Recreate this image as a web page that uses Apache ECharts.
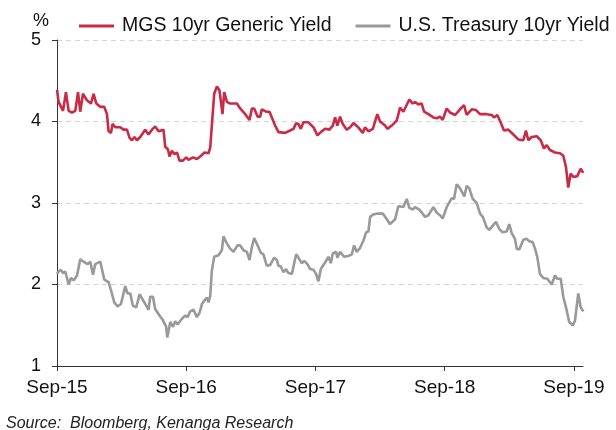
<!DOCTYPE html>
<html>
<head>
<meta charset="utf-8" />
<script src="https://cdn.jsdelivr.net/npm/echarts@6/dist/echarts.min.js"></script>
<style>
  html, body { margin: 0; padding: 0; background: #fff; }
  #chart { width: 616px; height: 430px; }
</style>
</head>
<body>
<div id="chart"></div>
<script>
// x values are months since Sep-15
const tickLabels = ["Sep-15", "Sep-16", "Sep-17", "Sep-18", "Sep-19"];
const tickMonths = [0, 12, 24, 36, 48];

const mgsMonths = [0, 0.15, 0.56, 0.83, 1.08, 1.39, 1.7, 1.95, 2.16, 2.41, 2.78, 3.15, 3.4, 3.65, 4.02, 4.39, 4.64, 4.79, 5.01, 5.16, 5.41, 5.87, 6.18, 6.5, 6.74, 6.96, 7.2, 7.42, 7.73, 8.19, 8.5, 8.82, 9.12, 9.43, 9.89, 10.05, 10.3, 10.45, 10.67, 10.91, 11.14, 11.38, 11.69, 12, 12.21, 12.62, 12.99, 13.3, 13.7, 14.07, 14.23, 14.48, 14.6, 14.85, 15.09, 15.37, 15.53, 15.78, 16.08, 16.71, 17.01, 17.48, 17.88, 18.1, 18.31, 18.62, 18.87, 19.02, 19.42, 19.73, 20.26, 20.57, 21.19, 21.65, 21.96, 22.21, 22.42, 22.64, 22.89, 23.35, 23.81, 24.19, 24.5, 24.9, 25.3, 25.61, 25.83, 26.04, 26.29, 26.54, 26.91, 27.22, 27.53, 27.9, 28.4, 28.61, 28.92, 29.33, 29.75, 30, 30.47, 30.68, 31.09, 31.55, 31.86, 32.17, 32.72, 33.04, 33.25, 33.56, 33.87, 34.09, 34.49, 34.95, 35.27, 35.57, 35.82, 36.19, 36.5, 36.97, 37.43, 37.8, 38.05, 38.52, 38.91, 39.29, 39.91, 40.37, 40.59, 40.89, 41.14, 41.51, 41.91, 42.38, 42.84, 43.31, 43.55, 43.77, 44.08, 44.55, 44.92, 45.23, 45.48, 45.78, 46.25, 46.71, 47.02, 47.27, 47.48, 47.7, 47.95, 48.32, 48.63, 48.88];
const mgsYield = [4.39, 4.24, 4.13, 4.36, 4.13, 4.11, 4.13, 4.36, 4.12, 4.34, 4.26, 4.22, 4.34, 4.22, 4.18, 4.18, 4.09, 3.88, 3.86, 3.97, 3.93, 3.93, 3.9, 3.9, 3.8, 3.77, 3.81, 3.77, 3.81, 3.9, 3.84, 3.9, 3.94, 3.88, 3.9, 3.69, 3.66, 3.57, 3.64, 3.6, 3.62, 3.52, 3.52, 3.56, 3.53, 3.56, 3.54, 3.57, 3.62, 3.61, 3.68, 4.13, 4.34, 4.43, 4.38, 4.09, 4.36, 4.24, 4.22, 4.22, 4.16, 4.09, 4.02, 4.16, 4.16, 4.06, 4.06, 4.15, 4.12, 4.12, 3.95, 3.87, 3.86, 3.89, 3.91, 3.98, 3.97, 3.91, 3.99, 3.99, 3.93, 3.83, 3.87, 3.91, 3.9, 3.95, 4.05, 3.95, 4.06, 3.97, 3.9, 3.93, 3.98, 3.94, 3.86, 3.93, 3.88, 3.91, 4.09, 4.0, 3.95, 3.91, 3.95, 4.01, 4.17, 4.12, 4.27, 4.22, 4.24, 4.21, 4.22, 4.12, 4.09, 4.05, 4.04, 4.06, 4.02, 4.16, 4.11, 4.08, 4.15, 4.2, 4.08, 4.15, 4.14, 4.09, 4.09, 4.08, 4.05, 4.08, 4.01, 3.89, 3.9, 3.84, 3.78, 3.77, 3.89, 3.77, 3.81, 3.82, 3.77, 3.67, 3.71, 3.65, 3.62, 3.61, 3.58, 3.44, 3.19, 3.36, 3.32, 3.33, 3.42, 3.37];

const ustMonths = [0, 0.15, 0.37, 0.56, 0.77, 0.93, 1.08, 1.3, 1.54, 1.86, 2.16, 2.47, 2.84, 3.09, 3.34, 3.55, 4.02, 4.39, 4.79, 5.01, 5.32, 5.62, 5.94, 6.34, 6.55, 6.8, 7.05, 7.36, 7.67, 7.98, 8.29, 8.5, 8.66, 8.91, 9.12, 9.52, 9.84, 10.14, 10.24, 10.52, 10.77, 10.98, 11.19, 11.6, 11.91, 12.12, 12.37, 12.68, 12.99, 13.23, 13.46, 13.67, 13.92, 14.07, 14.23, 14.38, 14.6, 15, 15.31, 15.46, 15.71, 16.08, 16.39, 16.76, 17.01, 17.32, 17.63, 17.88, 18.1, 18.31, 18.56, 18.93, 19.17, 19.49, 19.8, 20.17, 20.42, 20.57, 20.79, 21.03, 21.28, 21.49, 21.81, 22.21, 22.42, 22.74, 22.95, 23.26, 23.51, 23.81, 24.06, 24.28, 24.5, 24.9, 25.21, 25.43, 25.61, 25.92, 26.04, 26.29, 26.66, 27.06, 27.38, 27.59, 27.84, 28.15, 28.46, 28.71, 28.92, 29.08, 29.38, 29.75, 30.26, 30.63, 30.93, 31.4, 31.7, 31.86, 32.17, 32.48, 32.72, 33.04, 33.25, 33.65, 34.18, 34.49, 34.95, 35.27, 35.57, 35.82, 36.19, 36.66, 36.87, 37.12, 37.43, 37.59, 37.83, 38.05, 38.29, 38.61, 38.98, 39.29, 39.54, 39.91, 40.15, 40.46, 40.77, 41.08, 41.39, 41.76, 42, 42.23, 42.53, 42.69, 42.93, 43.31, 43.62, 43.86, 44.18, 44.39, 44.6, 44.85, 45.16, 45.53, 45.94, 46.25, 46.46, 46.78, 47.02, 47.27, 47.57, 47.89, 48.1, 48.41, 48.63, 48.88];
const ustYield = [2.13, 2.16, 2.18, 2.14, 2.16, 2.16, 2.0, 2.08, 2.05, 2.11, 2.31, 2.28, 2.25, 2.28, 2.12, 2.25, 2.28, 2.06, 2.03, 1.93, 1.78, 1.73, 1.76, 1.98, 1.89, 1.89, 1.74, 1.72, 1.88, 1.81, 1.74, 1.69, 1.85, 1.85, 1.7, 1.62, 1.56, 1.48, 1.35, 1.54, 1.48, 1.55, 1.51, 1.58, 1.62, 1.6, 1.67, 1.69, 1.6, 1.65, 1.76, 1.8, 1.84, 1.78, 1.86, 2.17, 2.34, 2.36, 2.42, 2.59, 2.52, 2.44, 2.4, 2.48, 2.48, 2.42, 2.4, 2.3, 2.46, 2.57, 2.5, 2.39, 2.37, 2.23, 2.24, 2.33, 2.3, 2.23, 2.22, 2.15, 2.19, 2.14, 2.13, 2.37, 2.33, 2.26, 2.29, 2.25, 2.19, 2.18, 2.13, 2.04, 2.19, 2.27, 2.34, 2.26, 2.38, 2.4, 2.33, 2.4, 2.34, 2.35, 2.37, 2.48, 2.4, 2.45, 2.54, 2.64, 2.65, 2.83, 2.86, 2.87, 2.87, 2.8, 2.74, 2.8, 2.96, 2.97, 2.95, 3.05, 2.94, 2.92, 2.95, 2.92, 2.83, 2.85, 2.95, 2.88, 2.85, 2.81, 2.95, 3.06, 3.05, 3.23, 3.18, 3.19, 3.08, 3.21, 3.18, 3.05, 3.0, 2.87, 2.83, 2.7, 2.67, 2.72, 2.77, 2.68, 2.64, 2.65, 2.74, 2.63, 2.56, 2.44, 2.43, 2.55, 2.56, 2.53, 2.52, 2.44, 2.34, 2.13, 2.08, 2.07, 2.0, 2.11, 2.07, 2.07, 1.85, 1.72, 1.54, 1.5, 1.55, 1.89, 1.72, 1.67];

const seriesNames = ["MGS 10yr Generic Yield", "U.S. Treasury 10yr Yield"];
const seriesColors = ["#C92A45", "#999999"];

const font = "'Liberation Sans', Arial, sans-serif";
const zip = (xs, ys) => xs.map((x, i) => [x, ys[i]]);

let myChart = echarts.init(document.getElementById("chart"));
const options = {
  animation: false,
  title: [
    {
      text: "%",
      left: 28,
      top: 7,
      textStyle: { fontFamily: font, fontSize: 18, fontWeight: "normal", color: "#111" },
    },
    {
      text: "Source:  Bloomberg, Kenanga Research",
      left: 1,
      top: 411,
      textStyle: { fontFamily: font, fontSize: 16, fontStyle: "italic", fontWeight: "normal", color: "#222" },
    },
  ],
  legend: {
    left: 74,
    top: 11,
    itemGap: 24,
    itemWidth: 35,
    itemHeight: 3,
    icon: "rect",
    textStyle: { fontFamily: font, fontSize: 19.5, color: "#111", padding: [0, 0, 0, 3] },
    data: seriesNames,
  },
  grid: {
    left: 57,
    right: 33,
    top: 40,
    bottom: 64,
  },
  xAxis: {
    type: "value",
    min: 0,
    max: 48.85,
    interval: 12,
    axisLine: { lineStyle: { color: "#333", width: 1 } },
    axisTick: { show: true, length: 5, customValues: tickMonths, lineStyle: { color: "#333" } },
    axisLabel: {
      customValues: tickMonths,
      margin: 12,
      fontFamily: font,
      fontSize: 19,
      color: "#111",
      formatter: (v) => tickLabels[Math.round(v / 12)] || "",
    },
    splitLine: { show: false },
  },
  yAxis: {
    type: "value",
    min: 1,
    max: 5,
    interval: 1,
    axisLine: { show: true, lineStyle: { color: "#333", width: 1 } },
    axisTick: { show: true, length: 5, lineStyle: { color: "#333" } },
    axisLabel: { margin: 16, fontFamily: font, fontSize: 18, color: "#111" },
    splitLine: { show: true, lineStyle: { color: "#d4d4d4", type: [5, 4], width: 1 } },
  },
  series: [
    {
      name: seriesNames[0],
      type: "line",
      data: zip(mgsMonths, mgsYield),
      symbol: "none",
      color: seriesColors[0],
      lineStyle: { width: 2.6, color: seriesColors[0] },
      z: 3,
    },
    {
      name: seriesNames[1],
      type: "line",
      data: zip(ustMonths, ustYield),
      symbol: "none",
      color: seriesColors[1],
      lineStyle: { width: 2.6, color: seriesColors[1] },
      z: 2,
    },
  ],
};
myChart.setOption(options);
</script>
</body>
</html>
